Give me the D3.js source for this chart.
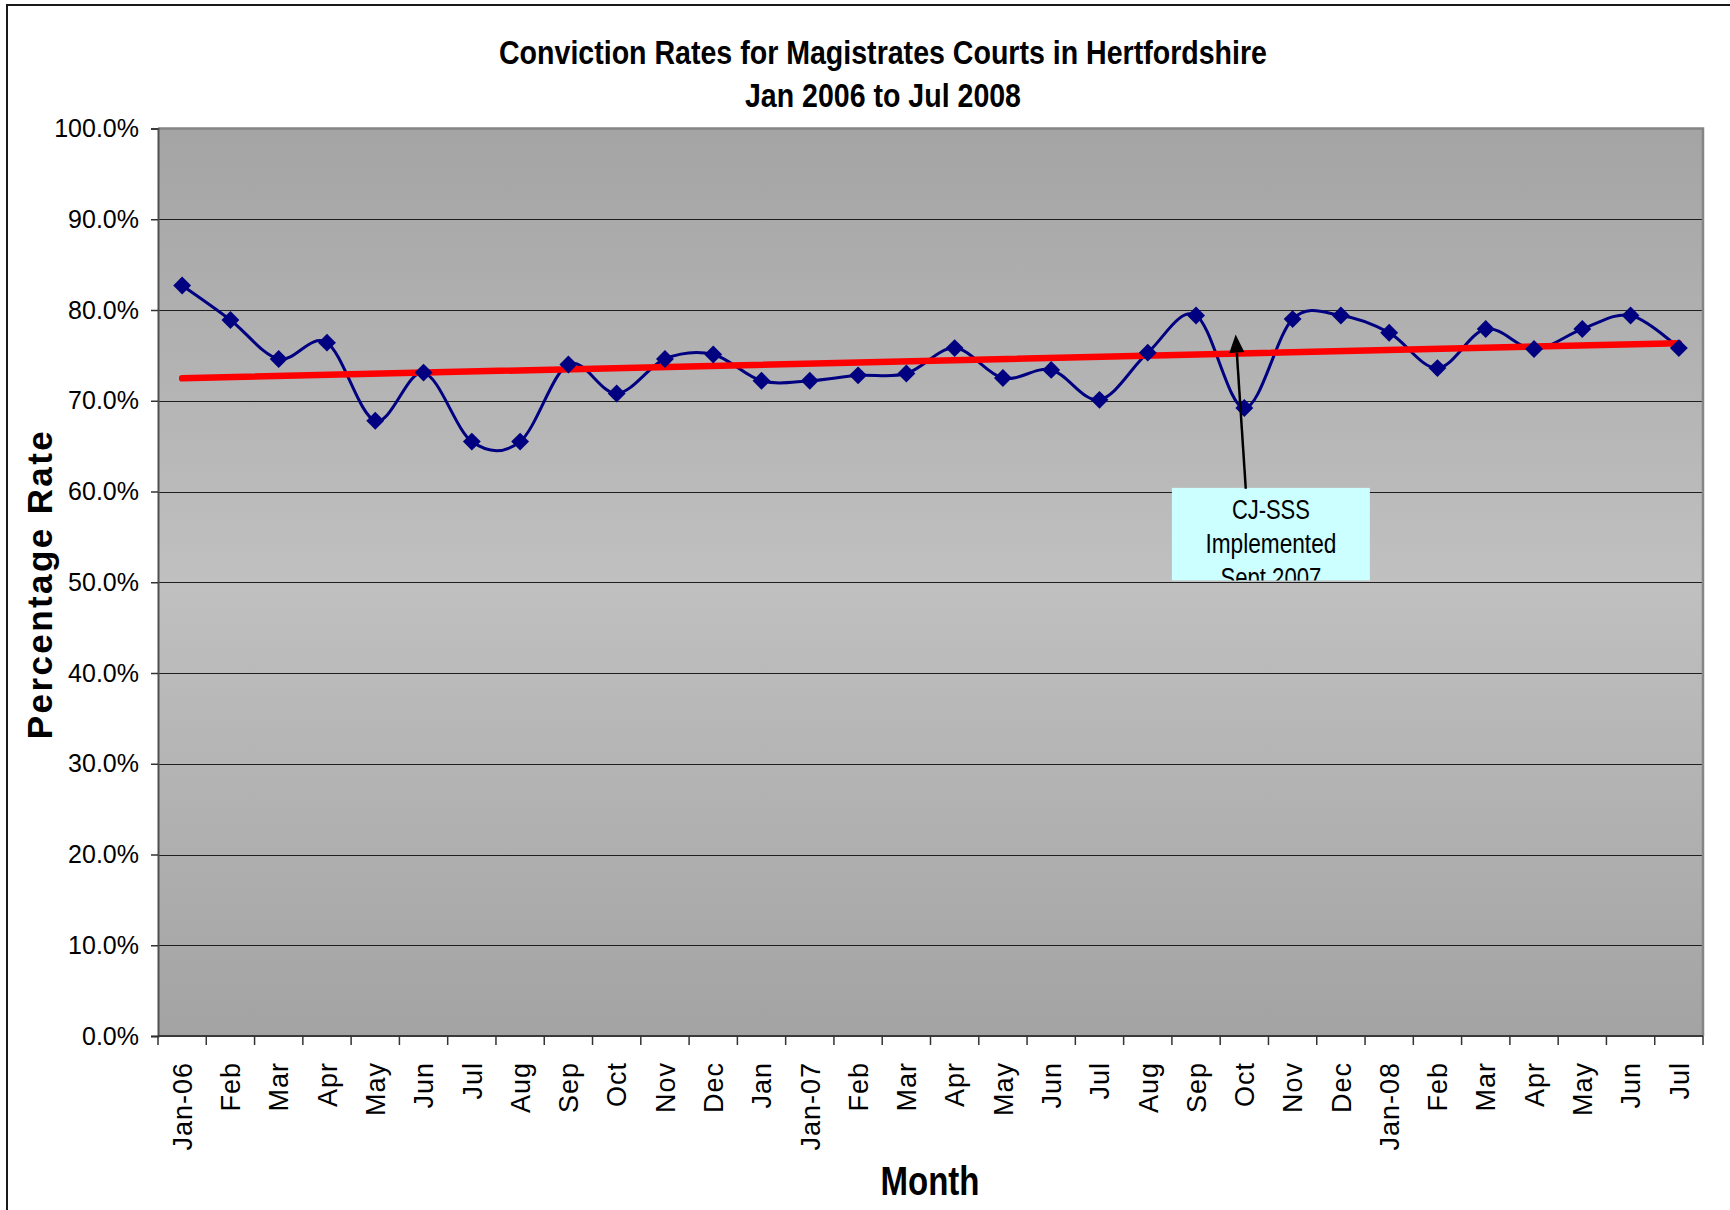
<!DOCTYPE html>
<html lang="en">
  <head>
    <meta charset="UTF-8">
    <title>Conviction Rates</title>
    <script src="https://cdn.jsdelivr.net/npm/d3@7"></script>
    <style>
      body { margin: 0; background: #fff; }
      svg { display: block; }
      .narrow { font-family: "Liberation Sans Narrow", "Arial Narrow", "Liberation Sans", Arial, sans-serif; }
      .plain { font-family: "Liberation Sans", Arial, sans-serif; }
    </style>
  </head>
  <body>
    <svg id="chart"></svg>

    <script>
      // months as printed under the axis (Jan 2007 shows up twice in the source sheet)
      var months = ["Jan-06", "Feb", "Mar", "Apr", "May", "Jun", "Jul", "Aug", "Sep", "Oct", "Nov", "Dec",
                    "Jan", "Jan-07", "Feb", "Mar", "Apr", "May", "Jun", "Jul", "Aug", "Sep", "Oct", "Nov", "Dec",
                    "Jan-08", "Feb", "Mar", "Apr", "May", "Jun", "Jul"];

      // conviction rate, percent
      var rates = [82.7, 78.9, 74.6, 76.4, 67.8, 73.1, 65.5, 65.5, 74.0, 70.8, 74.6, 75.1,
                   72.2, 72.2, 72.8, 73.0, 75.8, 72.5, 73.4, 70.1, 75.3, 79.4, 69.2, 79.0, 79.4,
                   77.5, 73.6, 77.9, 75.7, 77.9, 79.4, 75.8];

      var yTicks = [0, 10, 20, 30, 40, 50, 60, 70, 80, 90, 100];

      var titleLines = ["Conviction Rates for Magistrates Courts in Hertfordshire", "Jan 2006 to Jul 2008"];
      var noteLines = ["CJ-SSS", "Implemented", "Sept 2007"];

      var width = 1730, height = 1210;
      var svg = d3.select("#chart").attr("width", width).attr("height", height);

      var plotL = 158, plotR = 1703, plotT = 128.5, plotB = 1036;

      var x = d3.scaleBand()
          .domain(d3.range(months.length))
          .range([plotL, plotR]);
      // fractional category position, used for ticks and the callout
      var xPos = d3.scaleLinear().domain([0, months.length]).range([plotL, plotR]);
      var y = d3.scaleLinear().domain([0, 100]).range([plotB, plotT]);

      // outer chart border (runs off the bottom/right of the shot)
      svg.append("rect")
          .attr("x", 7).attr("y", 5)
          .attr("width", width + 20).attr("height", height + 20)
          .attr("fill", "none").attr("stroke", "#1a1a1a").attr("stroke-width", 2);

      var defs = svg.append("defs");
      var grad = defs.append("linearGradient")
          .attr("id", "plotFill").attr("x1", 0).attr("y1", 0).attr("x2", 0).attr("y2", 1);
      grad.append("stop").attr("offset", "0%").attr("stop-color", "#a4a4a4");
      grad.append("stop").attr("offset", "50%").attr("stop-color", "#c0c0c0");
      grad.append("stop").attr("offset", "100%").attr("stop-color", "#a3a3a3");

      svg.append("rect")
          .attr("x", plotL).attr("y", plotT)
          .attr("width", plotR - plotL).attr("height", plotB - plotT)
          .attr("fill", "url(#plotFill)");

      // gridlines
      svg.append("g")
          .selectAll("line")
          .data(yTicks.filter(function(d) { return d > 0 && d < 100; }))
          .enter().append("line")
          .attr("x1", plotL).attr("x2", plotR)
          .attr("y1", function(d) { return Math.round(y(d)) + 0.5; })
          .attr("y2", function(d) { return Math.round(y(d)) + 0.5; })
          .attr("stroke", "#1e1e1e").attr("stroke-width", 1);

      // plot frame: grey top/right
      svg.append("path")
          .attr("d", "M" + plotL + "," + plotT + "H" + plotR + "V" + plotB)
          .attr("fill", "none").attr("stroke", "#858585").attr("stroke-width", 2.5);

      // y axis
      var yAxis = svg.append("g")
          .attr("transform", "translate(" + plotL + ",0)")
          .call(d3.axisLeft(y).tickValues(yTicks).tickSize(7).tickPadding(12)
                .tickFormat(function(d) { return d.toFixed(1) + "%"; }));
      yAxis.select(".domain").attr("stroke", "#505050").attr("stroke-width", 2);
      yAxis.selectAll(".tick line").attr("stroke", "#333").attr("stroke-width", 1.5);
      yAxis.selectAll("text")
          .attr("class", "plain")
          .attr("font-size", 25).attr("fill", "#000");

      // x axis: ticks between categories
      var xAxisG = svg.append("g").attr("transform", "translate(0," + plotB + ")");
      xAxisG.append("line")
          .attr("x1", plotL).attr("x2", plotR)
          .attr("stroke", "#3a3a3a").attr("stroke-width", 2);
      xAxisG.selectAll(".tk")
          .data(d3.range(months.length + 1))
          .enter().append("line")
          .attr("class", "tk")
          .attr("x1", function(i) { return xPos(i); })
          .attr("x2", function(i) { return xPos(i); })
          .attr("y1", 0).attr("y2", 9)
          .attr("stroke", "#333").attr("stroke-width", 1.5);
      xAxisG.selectAll(".lbl")
          .data(months)
          .enter().append("text")
          .attr("class", "lbl plain")
          .attr("transform", function(d, i) {
            return "translate(" + (x(i) + x.bandwidth() / 2) + ",26) rotate(-90)";
          })
          .attr("text-anchor", "end")
          .attr("dy", "0.36em")
          .attr("font-size", 27)
          .attr("letter-spacing", 1)
          .text(function(d) { return d; });

      // linear trendline (least squares, like Excel's)
      var idx = d3.range(rates.length);
      var mx = d3.mean(idx), my = d3.mean(rates);
      var sxy = d3.sum(idx, function(i) { return (i - mx) * (rates[i] - my); });
      var sxx = d3.sum(idx, function(i) { return (i - mx) * (i - mx); });
      var slope = sxy / sxx, icept = my - slope * mx;
      var cx = function(i) { return x(i) + x.bandwidth() / 2; };

      // smoothed data line
      var line = d3.line()
          .x(function(d, i) { return cx(i); })
          .y(function(d) { return y(d); })
          .curve(d3.curveCardinal.tension(0));
      svg.append("path")
          .datum(rates)
          .attr("d", line)
          .attr("fill", "none").attr("stroke", "#000080").attr("stroke-width", 3);

      svg.append("line")
          .attr("x1", cx(0)).attr("y1", y(icept))
          .attr("x2", cx(rates.length - 1)).attr("y2", y(icept + slope * (rates.length - 1)))
          .attr("stroke", "#ff0000").attr("stroke-width", 6.5).attr("stroke-linecap", "round");

      svg.append("g")
          .selectAll("path")
          .data(rates)
          .enter().append("path")
          .attr("d", d3.symbol(d3.symbolSquare, 160))
          .attr("transform", function(d, i) { return "translate(" + cx(i) + "," + y(d) + ") rotate(45)"; })
          .attr("fill", "#000080");

      // callout
      var boxX0 = xPos(21), boxX1 = xPos(25.1), boxY0 = y(60.4), boxY1 = y(50.2);
      defs.append("clipPath").attr("id", "noteClip")
          .append("rect")
          .attr("x", boxX0).attr("y", boxY0)
          .attr("width", boxX1 - boxX0).attr("height", boxY1 - boxY0);
      svg.append("rect")
          .attr("x", boxX0).attr("y", boxY0)
          .attr("width", boxX1 - boxX0).attr("height", boxY1 - boxY0)
          .attr("fill", "#ccffff");
      var noteLens = [78, 131, 101];
      svg.append("g").attr("clip-path", "url(#noteClip)")
          .selectAll("text")
          .data(noteLines)
          .enter().append("text")
          .attr("class", "narrow")
          .attr("x", (boxX0 + boxX1) / 2)
          .attr("y", function(d, i) { return boxY0 + 31 + i * 34; })
          .attr("text-anchor", "middle")
          .attr("font-size", 27)
          .attr("textLength", function(d, i) { return noteLens[i]; })
          .attr("lengthAdjust", "spacingAndGlyphs")
          .text(function(d) { return d; });

      var ax0 = xPos(22.53), ay0 = y(60.3), ax1 = xPos(22.32), ay1 = y(77.3);
      var ang = Math.atan2(ay1 - ay0, ax1 - ax0);
      var headLen = 18, headW = 7.5;
      var bx = ax1 - headLen * Math.cos(ang), by = ay1 - headLen * Math.sin(ang);
      svg.append("line")
          .attr("x1", ax0).attr("y1", ay0).attr("x2", bx).attr("y2", by)
          .attr("stroke", "#000").attr("stroke-width", 2.5);
      svg.append("path")
          .attr("d", "M" + ax1 + "," + ay1 +
                "L" + (bx + headW * Math.sin(ang)) + "," + (by - headW * Math.cos(ang)) +
                "L" + (bx - headW * Math.sin(ang)) + "," + (by + headW * Math.cos(ang)) + "Z")
          .attr("fill", "#000");

      // titles
      var titleLens = [768, 276];
      svg.selectAll(".title")
          .data(titleLines)
          .enter().append("text")
          .attr("class", "title narrow")
          .attr("x", 883)
          .attr("y", function(d, i) { return 64 + i * 43; })
          .attr("text-anchor", "middle")
          .attr("font-size", 33).attr("font-weight", "bold")
          .attr("textLength", function(d, i) { return titleLens[i]; })
          .attr("lengthAdjust", "spacingAndGlyphs")
          .text(function(d) { return d; });

      svg.append("text")
          .attr("class", "narrow")
          .attr("x", 930).attr("y", 1195)
          .attr("text-anchor", "middle")
          .attr("font-size", 41).attr("font-weight", "bold")
          .attr("textLength", 99).attr("lengthAdjust", "spacingAndGlyphs")
          .text("Month");

      svg.append("text")
          .attr("class", "plain")
          .attr("transform", "translate(52,584) rotate(-90)")
          .attr("text-anchor", "middle")
          .attr("font-size", 35).attr("font-weight", "bold")
          .attr("letter-spacing", 2.4)
          .text("Percentage Rate");
    </script>
  </body>
</html>
